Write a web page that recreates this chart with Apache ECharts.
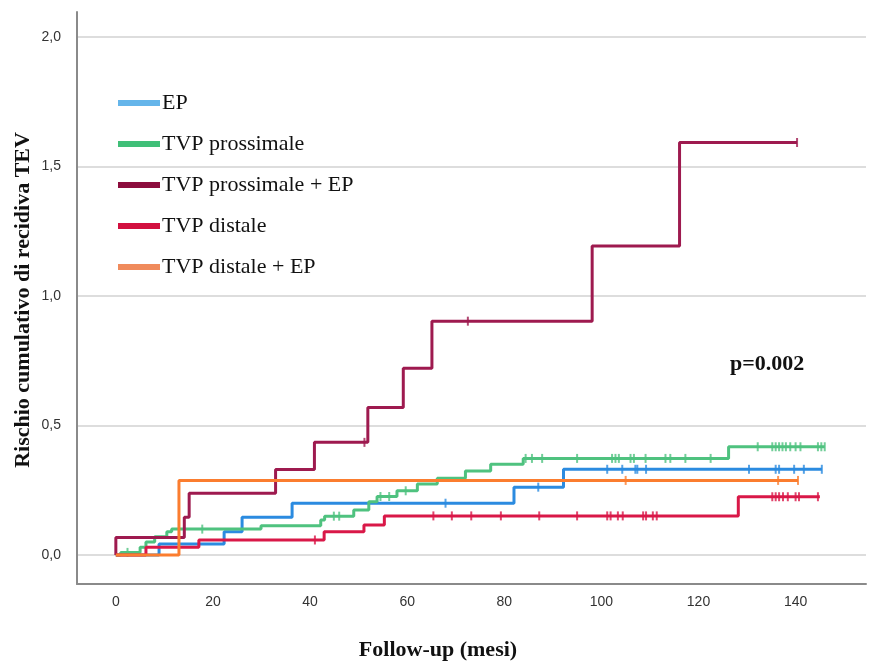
<!DOCTYPE html>
<html><head><meta charset="utf-8">
<script src="https://cdn.jsdelivr.net/npm/echarts@6/dist/echarts.min.js"></script>
<style>html,body{margin:0;padding:0;background:#fff}#c{width:878px;height:661px}</style>
</head><body><div id="c"></div>
<script>
const seriesNames = ['EP', 'TVP prossimale', 'TVP prossimale + EP', 'TVP distale', 'TVP distale + EP'];
const xTicks = [0, 20, 40, 60, 80, 100, 120, 140];
const yTicks = [0, 0.5, 1.0, 1.5, 2.0];
// step points [mesi, rischio cumulativo]
const epSteps = [[0,0],[8.9,0.042],[22.3,0.09],[26,0.146],[36.3,0.2],[82,0.262],[92.2,0.331],[145.4,0.331]];
const epCens = [67.9,87,101.2,104.3,107,107.4,109.2,130.4,135.9,136.6,139.7,141.7,145.4];
const tvpProxSteps = [[0,0],[1,0.01],[5,0.03],[6.2,0.05],[8,0.07],[10.5,0.09],[11.5,0.1],[29.9,0.113],[42.2,0.135],[43,0.15],[49,0.174],[52.1,0.206],[53.8,0.226],[57.9,0.248],[62.1,0.274],[66.2,0.296],[72,0.324],[77.2,0.35],[83.9,0.373],[126.2,0.418],[146,0.418]];
const tvpProxCens = [2.4,17.8,44.9,46,54.5,56.3,59.7,84.4,85.7,87.8,95,102.2,102.9,103.6,106,106.7,109.1,113.2,114.2,117.3,122.5,132.2,135.2,135.9,136.6,137.3,138,138.9,140,141,144.6,145.3,146];
const tvpProxEpSteps = [[0,0],[0,0.068],[14.1,0.146],[15.1,0.238],[32.9,0.33],[40.9,0.435],[51.9,0.57],[59.2,0.721],[65.1,0.903],[98.1,1.193],[116.1,1.593],[140.3,1.593]];
const tvpProxEpCens = [51.2,72.5,140.3];
const tvpDistSteps = [[0,0],[6.2,0.03],[17.1,0.058],[42.9,0.09],[51.1,0.116],[55.3,0.151],[128.2,0.225],[145,0.225]];
const tvpDistCens = [41,65.4,69.2,73.2,79.3,87.2,95,101.2,101.9,103.4,104.4,108.6,109.2,110.6,111.4,135.2,135.9,136.6,137.4,138.4,140,140.7,144.6];
const tvpDistEpSteps = [[0,0],[13,0.288],[140.5,0.288]];
const tvpDistEpCens = [105,136.4,140.5];

const lineColors = ['#2b8be0', '#4fc27f', '#9e1a4f', '#d91848', '#fb7d2f'];
const legendColors = ['#65b5ea', '#40bf78', '#8c0d3d', '#d2103f', '#f08b5c'];
const allSteps = [epSteps, tvpProxSteps, tvpProxEpSteps, tvpDistSteps, tvpDistEpSteps];
const allCens = [epCens, tvpProxCens, tvpProxEpCens, tvpDistCens, tvpDistEpCens];

function levelAt(steps, t) { let v = 0; for (const [x, y] of steps) if (x <= t) v = y; return v; }

const series = [];
seriesNames.forEach((n, i) => {
  series.push({
    name: n, type: 'line', step: 'end', data: allSteps[i], showSymbol: false,
    lineStyle: { color: lineColors[i], width: 3 }, itemStyle: { color: lineColors[i] },
    z: 2 + i, silent: true, animation: false
  });
});
seriesNames.forEach((n, i) => {
  series.push({
    name: n + ' (censurati)', type: 'scatter', symbol: 'rect', symbolSize: [2, 9],
    data: allCens[i].map(t => [t, levelAt(allSteps[i], t)]),
    itemStyle: { color: lineColors[i] }, z: 2 + i, silent: true, animation: false
  });
});

const chart = echarts.init(document.getElementById('c'), null, { renderer: 'canvas' });
chart.setOption({
  backgroundColor: '#ffffff',
  animation: false,
  grid: { left: 77, right: 12, top: 12, bottom: 77, containLabel: false, outerBoundsMode: 'none' },
  legend: {
    orient: 'vertical', left: 118, top: 92, padding: 0, itemWidth: 42, itemHeight: 6, itemGap: 19, icon: 'rect',
    data: seriesNames.map((n, i) => ({ name: n, itemStyle: { color: legendColors[i] } })),
    textStyle: { fontFamily: 'Liberation Serif', fontSize: 22, color: '#111', padding: [0, 0, 0, -3] }
  },
  xAxis: {
    type: 'value', min: -8.0, max: 154.5,
    axisLine: { show: true, onZero: false, lineStyle: { color: '#8a8a8a', width: 2 } },
    axisTick: { show: false, customValues: xTicks },
    axisLabel: { customValues: xTicks, margin: 11, fontSize: 14, color: '#333', fontFamily: 'Liberation Sans' },
    splitLine: { show: false }
  },
  yAxis: {
    type: 'value', min: -0.112, max: 2.097,
    axisLine: { show: true, onZero: false, lineStyle: { color: '#8a8a8a', width: 2 } },
    axisTick: { show: false, customValues: yTicks },
    axisLabel: { customValues: yTicks, margin: 16, fontSize: 14, color: '#333', fontFamily: 'Liberation Sans',
      formatter: v => v.toFixed(1).replace('.', ',') },
    splitLine: { show: true, lineStyle: { color: '#d2d2d2', width: 1.5 } }
  },
  graphic: [
    { type: 'text', left: 730, top: 353, style: { text: 'p=0.002', font: 'bold 22px "Liberation Serif"', fill: '#111' } },
    { type: 'text', x: 438, y: 650, style: { text: 'Follow-up (mesi)', font: 'bold 22px "Liberation Serif"', fill: '#111', align: 'center', verticalAlign: 'middle' } },
    { type: 'text', x: 23, y: 300, rotation: Math.PI / 2, style: { text: 'Rischio cumulativo di recidiva TEV', font: 'bold 22px "Liberation Serif"', fill: '#111', align: 'center', verticalAlign: 'middle' } }
  ],
  series: series
});
</script></body></html>
